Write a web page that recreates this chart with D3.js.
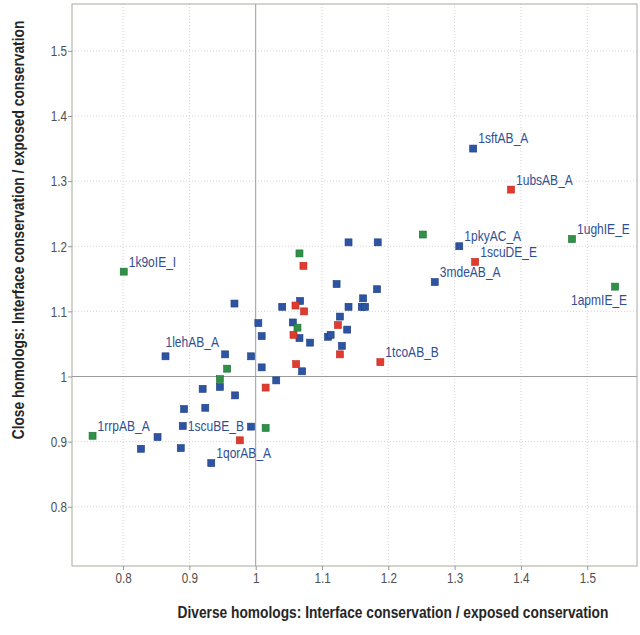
<!DOCTYPE html>
<html>
<head>
<meta charset="utf-8">
<script src="https://cdn.jsdelivr.net/npm/d3@7"></script>
<style>
  html, body { margin: 0; padding: 0; background: #fff; }
  svg { display: block; }
</style>
</head>
<body>
<svg id="chart" width="640" height="635"></svg>
<script>
// ---- data ----
const xTicks = [0.8, 0.9, 1, 1.1, 1.2, 1.3, 1.4, 1.5];
const yTicks = [0.8, 0.9, 1, 1.1, 1.2, 1.3, 1.4, 1.5];

const blueX = [1.328, 1.307, 1.270, 1.140, 1.184, 1.122, 1.183, 1.162, 1.140, 1.160, 1.165, 1.127, 1.138, 1.109, 1.113, 1.130,
               0.968, 1.040, 1.067, 1.004, 1.056, 1.009, 1.066, 1.082, 0.864, 0.954, 0.993, 1.009, 1.070, 1.031,
               0.920, 0.946, 0.969, 0.892, 0.924, 0.852, 0.827, 0.887, 0.890, 0.993, 0.933];
const blueY = [1.350, 1.200, 1.145, 1.206, 1.206, 1.142, 1.134, 1.120, 1.107, 1.107, 1.107, 1.092, 1.072, 1.061, 1.064, 1.047,
               1.112, 1.107, 1.116, 1.082, 1.083, 1.062, 1.059, 1.052, 1.031, 1.034, 1.031, 1.014, 1.008, 0.994,
               0.981, 0.984, 0.971, 0.950, 0.952, 0.907, 0.889, 0.890, 0.924, 0.923, 0.867];

const redX = [1.385, 1.331, 1.072, 1.060, 1.073, 1.057, 1.061, 1.015, 0.976, 1.124, 1.127, 1.188];
const redY = [1.287, 1.176, 1.170, 1.109, 1.100, 1.064, 1.019, 0.983, 0.902, 1.079, 1.034, 1.022];

const greenX = [1.252, 1.477, 1.542, 0.801, 1.066, 1.063, 0.957, 0.946, 0.754, 1.015];
const greenY = [1.218, 1.211, 1.138, 1.161, 1.189, 1.075, 1.012, 0.996, 0.909, 0.921];

const labelNames = ["1sftAB_A", "1ubsAB_A", "1pkyAC_A", "1scuDE_E", "3mdeAB_A", "1ughIE_E", "1apmIE_E",
                    "1tcoAB_B", "1k9oIE_I", "1lehAB_A", "1rrpAB_A", "1scuBE_B", "1qorAB_A"];
const labelX = [1.328, 1.385, 1.307, 1.331, 1.270, 1.477, 1.542, 1.188, 0.801, 0.864, 0.754, 0.890, 0.933];
const labelY = [1.350, 1.287, 1.200, 1.176, 1.145, 1.211, 1.138, 1.022, 1.161, 1.031, 0.909, 0.924, 0.867];

const xTitle = "Diverse homologs: Interface conservation / exposed conservation";
const yTitle = "Close homologs: Interface conservation / exposed conservation";

// ---- layout ----
const plot = { left: 72, right: 637, top: 4, bottom: 566 };
const labelOffsets = {
  "1lehAB_A": { dx: 0, dy: -14, anchor: "start" },
  "1scuBE_B": { dx: 5, dy: 0, anchor: "start" },
  "1apmIE_E": { dx: 12, dy: 13, anchor: "end" }
};
const defaultOffset = { dx: 5, dy: -10, anchor: "start" };
const font = "'Liberation Sans', Arial, sans-serif";

const svg = d3.select("#chart");
const x = d3.scaleLinear().domain([0.723, 1.575]).range([plot.left, plot.right]);
const y = d3.scaleLinear().domain([0.709, 1.572]).range([plot.bottom, plot.top]);

// grid
const g = svg.append("g");
g.selectAll("line.vg").data(xTicks.filter(d => d !== 1)).join("line")
  .attr("x1", d => x(d)).attr("x2", d => x(d))
  .attr("y1", plot.top).attr("y2", plot.bottom)
  .attr("stroke", "#d4d4d4").attr("stroke-width", 1).attr("stroke-dasharray", "1,2");
g.selectAll("line.hg").data(yTicks.filter(d => d !== 1)).join("line")
  .attr("y1", d => y(d)).attr("y2", d => y(d))
  .attr("x1", plot.left).attr("x2", plot.right)
  .attr("stroke", "#d4d4d4").attr("stroke-width", 1).attr("stroke-dasharray", "1,2");

// reference lines at 1
g.append("line").attr("x1", x(1)).attr("x2", x(1)).attr("y1", plot.top).attr("y2", plot.bottom)
  .attr("stroke", "#9a9a9a").attr("stroke-width", 1);
g.append("line").attr("y1", y(1)).attr("y2", y(1)).attr("x1", plot.left).attr("x2", plot.right)
  .attr("stroke", "#9a9a9a").attr("stroke-width", 1);

// frame
svg.append("rect").attr("x", plot.left).attr("y", plot.top)
  .attr("width", plot.right - plot.left).attr("height", plot.bottom - plot.top)
  .attr("fill", "none").attr("stroke", "#aaa9a0").attr("stroke-width", 1);

// axes
const xAxis = d3.axisBottom(x).tickValues(xTicks).tickSize(4).tickFormat(d3.format("~g"));
const yAxis = d3.axisLeft(y).tickValues(yTicks).tickSize(4).tickFormat(d3.format("~g"));
const gx = svg.append("g").attr("transform", `translate(0,${plot.bottom})`).call(xAxis);
const gy = svg.append("g").attr("transform", `translate(${plot.left},0)`).call(yAxis);
[gx, gy].forEach(a => {
  a.select(".domain").remove();
  a.selectAll(".tick line").attr("stroke", "#999");
  a.selectAll(".tick text").attr("fill", "#505050").attr("font-family", font).attr("font-size", 15);
});
gx.selectAll(".tick text").attr("y", 0).attr("dy", null)
  .attr("transform", "translate(0,17) scale(0.78,1)");
gy.selectAll(".tick text").attr("x", 0)
  .attr("transform", "translate(-5,0) scale(0.78,1)");

// titles
svg.append("text").attr("transform", "translate(393,618) scale(0.86,1)").attr("text-anchor", "middle")
  .attr("font-family", font).attr("font-weight", "bold").attr("font-size", 16).attr("fill", "#262626")
  .text(xTitle);
svg.append("text").attr("transform", "translate(24,230) rotate(-90) scale(0.86,1)").attr("text-anchor", "middle")
  .attr("font-family", font).attr("font-weight", "bold").attr("font-size", 16).attr("fill", "#262626")
  .text(yTitle);

// points
function drawSeries(xs, ys, fill, stroke) {
  const data = xs.map((v, i) => ({ x: v, y: ys[i] }));
  svg.append("g").selectAll("rect").data(data).join("rect")
    .attr("x", d => x(d.x) - 3.5).attr("y", d => y(d.y) - 3.5)
    .attr("width", 7).attr("height", 7)
    .attr("fill", fill).attr("stroke", stroke).attr("stroke-width", 0.6);
}
drawSeries(blueX, blueY, "#2d54a2", "#1f3f80");
drawSeries(redX, redY, "#e23b2e", "#b92b22");
drawSeries(greenX, greenY, "#2f9148", "#1f6f35");

// labels
const labels = labelNames.map((n, i) => ({ name: n, x: labelX[i], y: labelY[i] }));
svg.append("g").selectAll("text").data(labels).join("text")
  .attr("transform", d => {
    const o = labelOffsets[d.name] || defaultOffset;
    return `translate(${x(d.x) + o.dx},${y(d.y) + o.dy}) scale(0.86,1)`;
  })
  .attr("dy", "0.35em")
  .attr("text-anchor", d => (labelOffsets[d.name] || defaultOffset).anchor)
  .attr("font-family", font).attr("font-size", 14).attr("fill", "#2f4f94")
  .text(d => d.name);
</script>
</body>
</html>
